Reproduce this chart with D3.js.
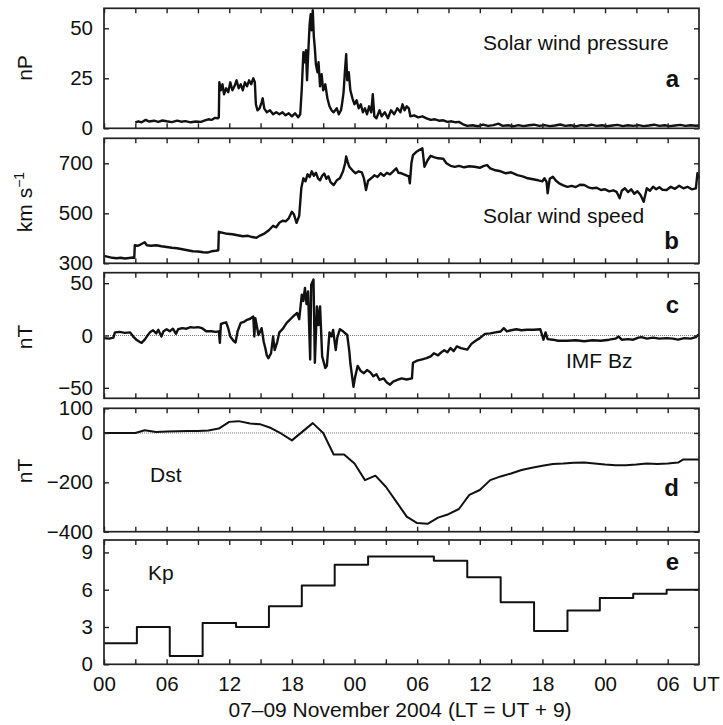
<html>
<head>
<meta charset="utf-8">
<script src="https://d3js.org/d3.v7.min.js"></script>
<style>
body { margin: 0; background: #fff; }
text { font-family: "Liberation Sans", Arial, Helvetica, sans-serif; fill: #111; }
</style>
</head>
<body>
<svg id="chart" width="723" height="725"></svg>
<script>
// all times in hours since 00 UT, 07 Nov 2004
var pressure = [[3.0,3],[3.3,3.5],[3.6,3],[4.0,4.2],[4.3,3.4],[4.8,3.8],[5.2,3.2],[5.6,3.9],[6.0,3.5],[6.5,3.1],[7.0,3.8],[7.4,3.3],[7.8,3.6],[8.3,3.0],[8.8,3.4],[9.3,3.2],[9.6,3.8],[10.0,4.5],[10.3,4.2],[10.6,5.2],[10.9,5.0],[11.0,5.5],[11.05,23],[11.2,19],[11.35,22],[11.5,17],[11.7,20],[11.9,18],[12.1,23],[12.3,19],[12.5,21],[12.7,24],[12.9,20],[13.1,22],[13.3,19],[13.5,23],[13.7,21],[13.9,24],[14.1,22],[14.3,25],[14.45,23],[14.55,12],[14.7,9],[14.9,10],[15.1,13],[15.2,15],[15.35,10],[15.6,8],[15.9,9],[16.2,7],[16.5,8],[16.8,7],[17.1,8],[17.4,6.5],[17.7,7.5],[18.0,6],[18.3,7.5],[18.6,5.5],[18.8,7],[18.95,20],[19.1,38],[19.2,33],[19.35,39],[19.45,24],[19.55,36],[19.7,52],[19.8,57],[19.9,49],[20.0,59],[20.1,46],[20.2,40],[20.3,32],[20.45,28],[20.55,33],[20.7,21],[20.85,27],[21.0,19],[21.2,22],[21.4,15],[21.6,11],[21.8,9],[22.0,8],[22.3,10],[22.5,7],[22.7,9],[22.8,12],[22.95,18],[23.1,30],[23.2,37],[23.3,24],[23.45,28],[23.6,19],[23.8,15],[24.0,12],[24.2,14],[24.4,10],[24.6,12],[24.8,8],[25.0,10],[25.2,7],[25.4,11],[25.6,8],[25.75,17],[25.9,6],[26.1,5],[26.4,9],[26.6,6],[26.9,8],[27.2,5],[27.5,9],[27.8,7],[28.1,10],[28.4,8],[28.6,12],[28.8,9],[29.0,11],[29.2,10],[29.35,6],[29.7,6.5],[30.1,5.5],[30.5,6],[30.9,5],[31.3,4.2],[31.7,4.5],[32.1,3.8],[32.5,4],[32.9,3.2],[33.3,3.5],[33.7,3],[34.0,3.2],[34.4,2],[34.8,1.2],[35.3,1.5],[35.8,1],[36.3,1.8],[36.8,1.2],[37.3,1.6],[37.8,2.3],[38.2,1.2],[38.7,1.5],[39.2,1],[39.7,1.6],[40.2,1.1],[40.7,1.5],[41.2,1.8],[41.7,1.2],[42.2,1.6],[42.7,1.1],[43.2,1.4],[43.7,1.9],[44.2,1.2],[44.7,1.5],[45.2,1],[45.7,1.6],[46.2,1.3],[46.7,1.8],[47.2,1.2],[47.7,1.5],[48.2,1],[48.7,1.4],[49.2,1.7],[49.7,1.1],[50.2,1.5],[50.7,1.2],[51.2,1.6],[51.7,1.1],[52.2,1.4],[52.7,1.8],[53.2,1.2],[53.7,1.5],[54.2,1.1],[54.7,1.4],[55.2,1.7],[55.7,1.2],[56.2,1.5],[56.7,1.3],[57,1.4]];

var speed = [[0,330],[0.4,326],[0.8,322],[1.2,320],[1.6,322],[2.0,319],[2.4,321],[2.8,323],[2.9,322],[2.95,372],[3.2,370],[3.5,375],[3.9,384],[4.1,372],[4.5,370],[5.0,372],[5.5,368],[6.0,365],[6.5,362],[7.0,360],[7.5,356],[8.0,352],[8.5,348],[9.0,347],[9.5,344],[9.9,343],[10.3,348],[10.7,350],[10.95,352],[11.0,426],[11.4,422],[11.8,418],[12.3,416],[12.8,412],[13.3,408],[13.8,410],[14.2,405],[14.6,402],[15.0,412],[15.4,420],[15.8,432],[16.2,450],[16.5,444],[16.8,462],[17.1,470],[17.4,468],[17.7,480],[18.0,506],[18.2,495],[18.45,462],[18.7,490],[18.9,600],[19.1,640],[19.3,628],[19.5,656],[19.7,645],[19.9,668],[20.1,650],[20.3,662],[20.5,640],[20.7,632],[20.9,650],[21.1,659],[21.3,638],[21.5,648],[21.7,625],[22.0,613],[22.3,632],[22.6,640],[22.9,668],[23.1,700],[23.2,727],[23.35,705],[23.5,686],[23.8,672],[24.1,660],[24.4,668],[24.7,664],[24.9,640],[25.1,593],[25.3,630],[25.6,640],[25.9,652],[26.2,645],[26.5,660],[26.8,650],[27.1,662],[27.4,656],[27.7,668],[28.0,680],[28.2,662],[28.5,660],[28.9,653],[29.2,648],[29.3,620],[29.45,700],[29.6,733],[29.9,745],[30.2,753],[30.5,760],[30.7,686],[31.0,712],[31.3,730],[31.6,725],[32.0,720],[32.5,718],[32.8,700],[33.2,690],[33.6,686],[34.0,690],[34.5,684],[35.0,688],[35.5,686],[36.0,682],[36.4,690],[36.7,693],[37.0,680],[37.5,672],[38.0,668],[38.5,660],[39.0,664],[39.6,653],[40.1,648],[40.6,640],[41.1,636],[41.6,632],[42.0,628],[42.2,640],[42.4,626],[42.5,580],[42.7,638],[43.0,646],[43.3,630],[43.6,620],[44.0,612],[44.4,606],[44.8,610],[45.2,605],[45.6,614],[46.0,613],[46.4,604],[46.8,600],[47.2,602],[47.6,593],[48.0,596],[48.4,588],[48.8,592],[49.1,586],[49.4,560],[49.6,590],[49.9,600],[50.2,585],[50.5,596],[50.8,578],[51.1,588],[51.4,573],[51.7,546],[52.0,600],[52.3,590],[52.6,606],[52.9,596],[53.2,604],[53.5,594],[53.9,593],[54.3,606],[54.7,598],[55.1,610],[55.5,600],[55.9,606],[56.3,596],[56.7,600],[56.85,660],[57,640]];

var bz = [[0,-2.5],[0.5,-3],[0.9,-2],[1.05,3],[1.5,3.5],[2.0,2.5],[2.5,3],[2.8,-1],[3.1,-4],[3.4,-6],[3.6,-7],[3.9,-4],[4.1,-1],[4.4,3],[4.7,5],[5.0,2],[5.2,5.5],[5.5,-1],[5.7,4],[6.0,6],[6.3,4],[6.6,6.5],[6.9,1.6],[7.1,6],[7.5,7],[7.9,6.5],[8.3,8],[8.6,7.5],[9.0,8],[9.4,7],[9.8,4],[10.3,4],[10.7,3.5],[11.0,4],[11.1,-7],[11.2,11],[11.5,12],[11.7,12.6],[11.9,7],[12.1,-1],[12.4,-5],[12.6,-6.7],[12.8,4],[13.1,12],[13.4,13],[13.7,15],[14.0,16],[14.3,18.2],[14.4,-1],[14.5,16.6],[14.8,0.5],[15.1,7],[15.3,-6],[15.45,-12],[15.6,-19],[15.75,-21.7],[16.0,-17],[16.2,-1],[16.35,-14],[16.6,-6],[16.8,3],[17.1,6],[17.5,12],[17.9,16],[18.2,19],[18.5,21.5],[18.7,15.6],[18.95,39],[19.1,33],[19.25,45.4],[19.4,30],[19.55,42],[19.75,-23],[19.85,48.6],[20.07,53.4],[20.2,-26],[20.4,27.8],[20.55,10],[20.7,27.8],[20.9,-20],[21.2,-31],[21.35,-29],[21.5,-10],[21.6,3],[21.8,-1],[21.95,5.4],[22.2,-14],[22.35,-2],[22.6,6],[22.9,4],[23.3,0.5],[23.5,-15],[23.6,-26.5],[23.9,-49],[24.05,-40],[24.3,-29],[24.6,-34],[24.9,-36],[25.2,-33],[25.5,-35],[25.8,-39],[26.1,-37],[26.4,-42.5],[26.8,-41],[27.1,-45],[27.4,-47],[27.7,-44],[28.1,-42.5],[28.5,-41],[29.0,-42],[29.5,-41],[29.6,-26],[30.0,-24],[30.4,-23],[30.9,-21.7],[31.3,-20],[31.6,-17],[32.0,-19],[32.2,-17],[32.6,-14],[32.9,-16],[33.2,-12],[33.5,-15],[33.8,-10.4],[34.2,-12],[34.8,-13.5],[35.2,-8],[35.6,-5],[36.0,-2.5],[36.5,1.6],[37.0,2],[37.5,3],[38.0,3.8],[38.3,7],[38.6,4],[39.0,5],[39.5,6],[40.0,5],[40.5,5.5],[41.2,5.5],[41.8,6],[42.1,-4],[42.3,3],[42.5,-3.5],[43.0,-4],[43.5,-5],[44.4,-5],[45.2,-4.5],[46.0,-5.5],[46.8,-4.5],[47.6,-5],[48.4,-4],[49.0,-3],[49.3,-1],[49.6,-4],[50.2,-3.5],[50.7,-4],[51.2,-2],[51.5,-1.5],[52.0,-3],[52.6,-2],[53.2,-3],[53.9,-2.5],[54.5,-3],[55.0,-4],[55.6,-2.5],[56.2,-3],[56.7,-1.5],[56.9,0.5],[57,1]];

var dst = [[0,0],[1,0],[2,0],[3,0],[3.9,11],[5,4],[6,6],[7,7],[8,8],[9,8],[10,10],[11,18],[12,45],[12.9,48],[14,38],[15,35],[16,20],[17,-3],[18,-30],[20,40],[21,0],[22,-87],[23,-87],[24,-124],[25,-191],[26,-173],[27,-218],[28,-278],[29,-339],[30,-365],[31,-368],[32,-343],[33,-329],[34,-308],[35,-251],[36,-231],[37,-191],[38,-176],[39,-164],[40,-150],[41,-141],[42,-133],[43,-126],[44,-124],[45,-121],[46,-120],[47,-124],[48,-128],[49,-131],[50,-131],[51,-128],[52,-124],[53,-126],[54,-124],[55,-120],[55.5,-107],[57,-107]];

var kpStart = [0, 3.15, 6.3, 9.45, 12.65, 15.8, 18.95, 22.1, 25.3, 28.5, 31.6, 34.8, 38.0, 41.2, 44.4, 47.5, 50.7, 53.9];
var kpValues = [1.7, 3, 0.67, 3.33, 3, 4.67, 6.33, 8, 8.67, 8.67, 8.33, 7, 5, 2.67, 4.33, 5.33, 5.67, 6];
var kpEnd = 57;

var xTicks = [0, 3, 6, 9, 12, 15, 18, 21, 24, 27, 30, 33, 36, 39, 42, 45, 48, 51, 54];
var xLabels = ["00", "", "06", "", "12", "", "18", "", "00", "", "06", "", "12", "", "18", "", "00", "", "06"];

var pressTicks = [0, 25, 50];
var speedTicks = [300, 500, 700];
var bzTicks = [-50, 0, 50];
var dstTicks = [-400, -200, 0, 100];
var kpTicks = [0, 3, 6, 9];

var font = '"Liberation Sans", Arial, Helvetica, sans-serif';
var svg = d3.select("#chart");
var x = d3.scaleLinear().domain([0, 57]).range([104, 699]);

var kpPoints = kpStart.map(function(t, i) { return [t, kpValues[i]]; });
kpPoints.push([kpEnd, kpValues[kpValues.length - 1]]);

var panels = [
	{ data: pressure, top: 8.3, bottom: 128.3, domain: [0, 60], ticks: pressTicks, unit: "nP", uy: 68, w: 2.4 },
	{ data: speed, top: 138.3, bottom: 263.3, domain: [300, 800], ticks: speedTicks, unit: "km", uy: 202, w: 2.4 },
	{ data: bz, top: 272.7, bottom: 398.3, domain: [-60, 60], ticks: bzTicks, unit: "nT", uy: 337, zero: true, w: 2.4 },
	{ data: dst, top: 408.3, bottom: 531.7, domain: [-400, 100], ticks: dstTicks, unit: "nT", uy: 471, zero: true, w: 2 },
	{ data: kpPoints, top: 540, bottom: 664.3, domain: [0, 10], ticks: kpTicks, unit: "", step: true, w: 2 }
];

panels.forEach(function(p, i) {
	var y = d3.scaleLinear().domain(p.domain).range([p.bottom, p.top]);
	var last = (i == panels.length - 1);

	// zero reference
	if (p.zero) {
		svg.append("line")
			.attr("x1", x(0)).attr("x2", x(57))
			.attr("y1", y(0)).attr("y2", y(0))
			.style("stroke", "#777").style("stroke-width", 1)
			.style("stroke-dasharray", "1,1");
	}

	// data
	var line = d3.line()
		.x(function(d) { return x(d[0]); })
		.y(function(d) { return y(d[1]); })
		.curve(p.step ? d3.curveStepAfter : d3.curveLinear);
	svg.append("path")
		.datum(p.data)
		.attr("d", line)
		.attr("fill", "none")
		.style("stroke", "#111")
		.style("stroke-width", p.w)
		.style("stroke-linejoin", "round");

	// inward ticks on all four sides
	var axes = [
		svg.append("g").attr("transform", "translate(0," + p.top + ")")
			.call(d3.axisTop(x).tickValues(xTicks).tickSize(-5).tickFormat("")),
		svg.append("g").attr("transform", "translate(0," + p.bottom + ")")
			.call(d3.axisBottom(x).tickValues(xTicks).tickSize(-5).tickPadding(12.5)
				.tickFormat(function(d, k) { return last ? xLabels[k] : ""; })),
		svg.append("g").attr("transform", "translate(104,0)")
			.call(d3.axisLeft(y).tickValues(p.ticks).tickSize(-5).tickPadding(11)),
		svg.append("g").attr("transform", "translate(699,0)")
			.call(d3.axisRight(y).tickValues(p.ticks).tickSize(-5).tickFormat(""))
	];
	axes.forEach(function(g) {
		g.select(".domain").remove();
		g.attr("font-size", 20.5).attr("font-family", font);
		g.selectAll("line").style("stroke", "#222").style("stroke-width", 1.4);
		g.selectAll("text").style("fill", "#111");
	});

	// frame
	svg.append("rect")
		.attr("x", 104).attr("y", p.top)
		.attr("width", 699 - 104).attr("height", p.bottom - p.top)
		.attr("fill", "none")
		.style("stroke", "#222").style("stroke-width", 1.7);

	// units
	if (p.unit == "km") {
		var t = svg.append("text")
			.attr("transform", "translate(32," + p.uy + ") rotate(-90)")
			.style("text-anchor", "middle").style("font-size", "21px");
		t.append("tspan").text("km s");
		t.append("tspan").attr("dy", -8).style("font-size", "14px").text("\u22121");
	} else if (p.unit) {
		svg.append("text")
			.attr("transform", "translate(32," + p.uy + ") rotate(-90)")
			.style("text-anchor", "middle").style("font-size", "21px")
			.text(p.unit);
	}
});

// panel captions
var captions = [
	["Solar wind pressure", 483, 50], ["Solar wind speed", 483, 223],
	["IMF Bz", 566, 368], ["Dst", 150, 482], ["Kp", 148, 580]
];
captions.forEach(function(c) {
	svg.append("text").attr("x", c[1]).attr("y", c[2])
		.style("font-size", "21px").text(c[0]);
});
var letters = [["a", 87], ["b", 249], ["c", 313], ["d", 496], ["e", 570]];
letters.forEach(function(l) {
	svg.append("text").attr("x", 679).attr("y", l[1])
		.style("text-anchor", "end").style("font-size", "24px").style("font-weight", "bold")
		.text(l[0]);
});

svg.append("text").attr("x", 706).attr("y", 691)
	.style("text-anchor", "middle").style("font-size", "20.5px").text("UT");
svg.append("text").attr("x", 400).attr("y", 717)
	.style("text-anchor", "middle").style("font-size", "21px")
	.text("07\u201309 November 2004 (LT = UT + 9)");
</script>
</body>
</html>
